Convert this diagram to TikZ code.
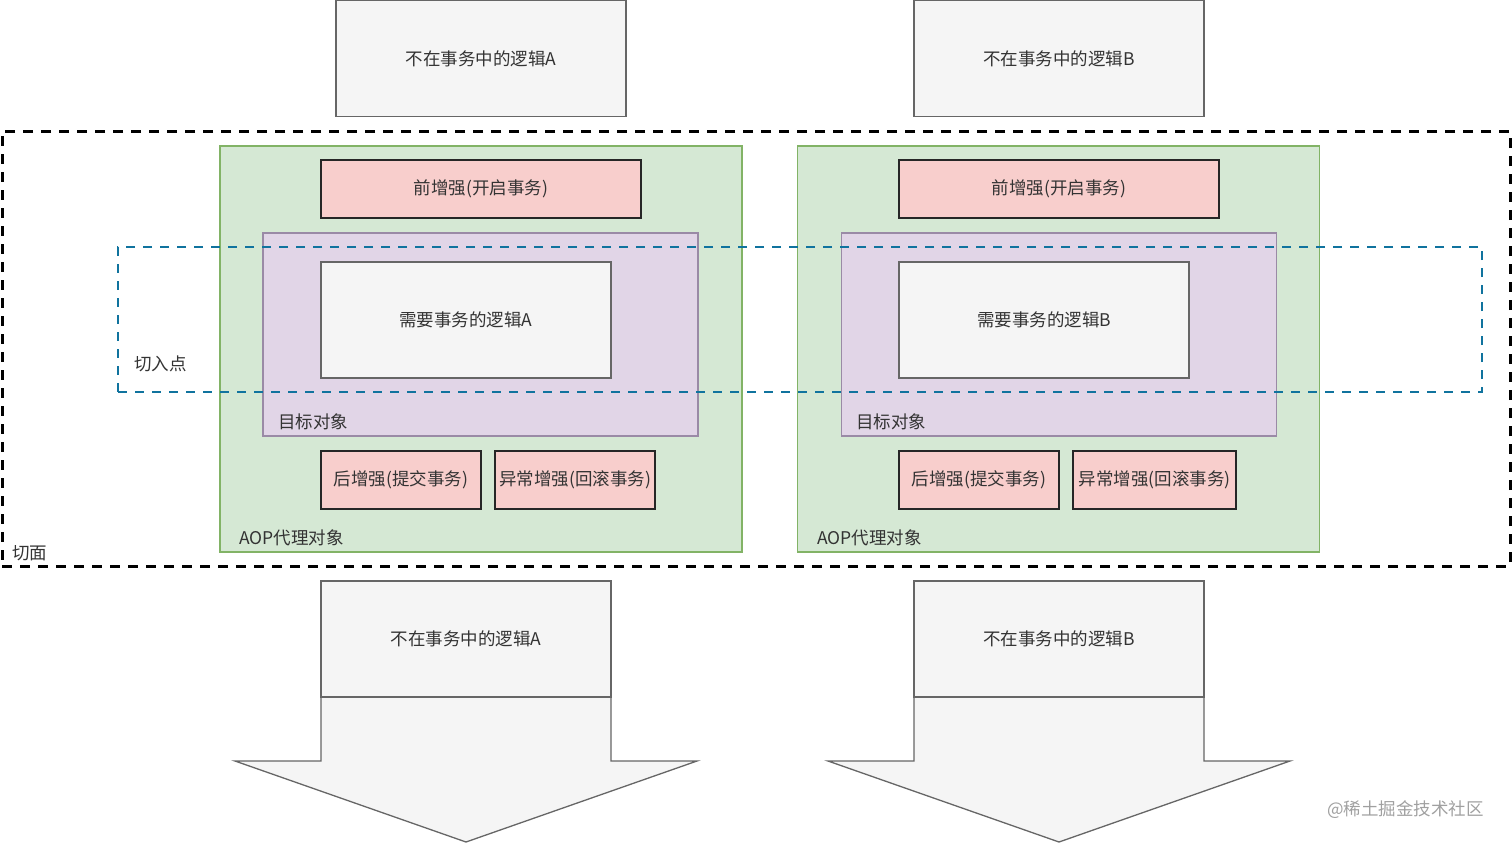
\documentclass[tikz,border=0pt]{standalone}
\usepackage{fontspec}
\setmainfont{Noto Sans CJK SC}

\definecolor{txtgray}{HTML}{333333}
\definecolor{boxfill}{HTML}{F5F5F5}
\definecolor{boxline}{HTML}{666666}
\definecolor{proxyfill}{HTML}{D5E8D4}
\definecolor{proxyline}{HTML}{82B366}
\definecolor{advfill}{HTML}{F8CECC}
\definecolor{advline}{HTML}{262626}
\definecolor{targetfill}{HTML}{E1D5E7}
\definecolor{targetline}{HTML}{9A8AA6}
\definecolor{pointline}{HTML}{10739E}
\definecolor{markgray}{HTML}{A0A0A0}

\tikzset{
  every node/.style={font=\fontsize{17.5}{21}\selectfont, text=txtgray, inner sep=0pt},
  logicbox/.style={draw=boxline, fill=boxfill, line width=1.3pt, minimum width=290pt, minimum height=116pt},
  proxybox/.style={draw=proxyline, fill=proxyfill, line width=1.2pt, minimum width=522pt, minimum height=406pt},
  advbox/.style={draw=advline, fill=advfill, line width=1.4pt, minimum height=58pt},
  targetbox/.style={draw=targetline, fill=targetfill, line width=1.3pt, minimum width=435pt, minimum height=203pt},
  cutframe/.style={draw=black, line width=3pt, dash pattern=on 10pt off 8pt, minimum width=1508pt, minimum height=435pt},
  pointframe/.style={draw=pointline, line width=2.7pt, dash pattern=on 9pt off 8pt, minimum width=1364pt, minimum height=145pt},
  tag/.style={anchor=west},
}

\begin{document}
\begin{tikzpicture}[x=1pt,y=-1pt]
\useasboundingbox (0,0) rectangle (1512,844);

% the cut
\node[cutframe] (cut) at (756,348.5) {};
\node[tag] (cutlbl) at (12,553) {切面};

% logic outside the transaction
\node[logicbox] (outA) at (481,58.5) {不在事务中的逻辑A};
\node[logicbox] (outB) at (1059,58.5) {不在事务中的逻辑B};

% proxy A
\node[proxybox] (proxyA) at (481,349) {};
\node[advbox, minimum width=320pt] (preA) at (481,189) {前增强(开启事务)};
\node[targetbox] (targetA) at (480.5,334.5) {};
\node[logicbox] (logicA) at (466,320) {需要事务的逻辑A};
\node[advbox, minimum width=160pt] (postA) at (401,480) {后增强(提交事务)};
\node[advbox, minimum width=160pt] (excA) at (575,480) {异常增强(回滚事务)};
\node[tag] (targetlblA) at (278,422) {目标对象};
\node[tag] (proxylblA) at (239,538) {AOP代理对象};

% proxy B
\node[proxybox] (proxyB) at (1058.5,349) {};
\node[advbox, minimum width=320pt] (preB) at (1059,189) {前增强(开启事务)};
\node[targetbox] (targetB) at (1059,334.5) {};
\node[logicbox] (logicB) at (1044,320) {需要事务的逻辑B};
\node[advbox, minimum width=160pt] (postB) at (979,480) {后增强(提交事务)};
\node[advbox, minimum width=163pt] (excB) at (1154.5,480) {异常增强(回滚事务)};
\node[tag] (targetlblB) at (856,422) {目标对象};
\node[tag] (proxylblB) at (817,538) {AOP代理对象};

% join point
\node[pointframe] (point) at (800,319.5) {};
\node[tag] (pointlbl) at (134,364) {切入点};

% logic after the transaction
\draw[draw=boxline, fill=boxfill, line width=1.3pt] (321,697) -- (321,761) -- (235,761) -- (466,842) -- (697,761) -- (611,761) -- (611,697) -- cycle;
\node[logicbox] (botA) at (466,639) {不在事务中的逻辑A};
\draw[draw=boxline, fill=boxfill, line width=1.3pt] (914,697) -- (914,761) -- (828,761) -- (1059,842) -- (1290,761) -- (1204,761) -- (1204,697) -- cycle;
\node[logicbox] (botB) at (1059,639) {不在事务中的逻辑B};

\node[text=markgray, anchor=west] (mark) at (1327,810) {@稀土掘金技术社区};
\end{tikzpicture}
\end{document}
